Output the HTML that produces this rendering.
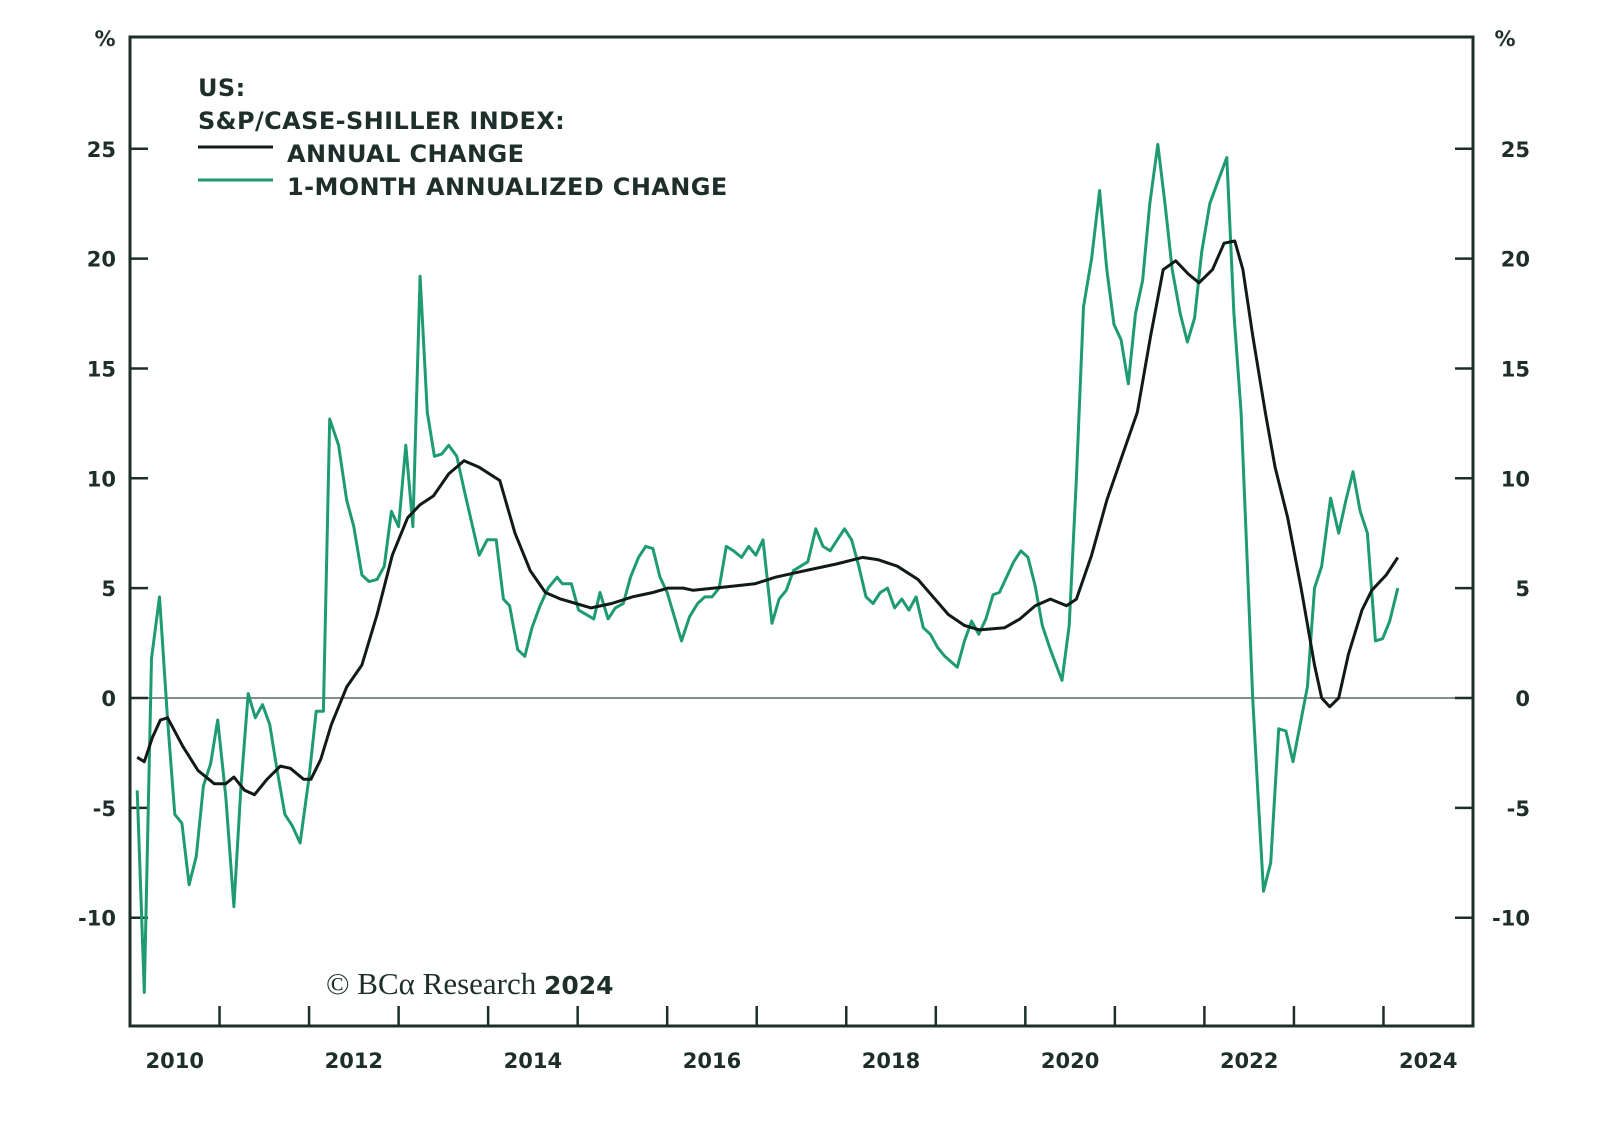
<!DOCTYPE html>
<html><head><meta charset="utf-8"><style>
html,body{margin:0;padding:0;background:#fff;}
svg{display:block;font-family:"DejaVu Sans","Liberation Sans",sans-serif;}
</style></head><body>
<svg id="chart" width="1600" height="1123" viewBox="0 0 1600 1123" xmlns="http://www.w3.org/2000/svg">
<rect x="0" y="0" width="1600" height="1123" fill="#fff"/>
<g id="grid"></g>
<g id="series"></g>
<g font-weight="bold" fill="#1d2e2b" font-size="24" letter-spacing="0.4">
<text x="198" y="96">US:</text>
<text x="198" y="129">S&amp;P/CASE-SHILLER INDEX:</text>
<line x1="198" y1="147" x2="273" y2="147" stroke="#111a18" stroke-width="3"/>
<text x="287" y="162">ANNUAL CHANGE</text>
<line x1="198" y1="180" x2="273" y2="180" stroke="#1f9b74" stroke-width="3"/>
<text x="287" y="195">1-MONTH ANNUALIZED CHANGE</text>
</g>
<text x="326" y="994" font-family="'Liberation Serif',serif" font-size="31" fill="#1d2e2b">© BCα Research <tspan font-family="'DejaVu Sans',sans-serif" font-weight="bold" font-size="25">2024</tspan></text>
</svg>
<script>
const yTicks=[-10,-5,0,5,10,15,20,25];
const xLabels=[2010,2012,2014,2016,2018,2020,2022,2024];
const annualDates=[2010.08,2010.16,2010.25,2010.34,2010.42,2010.59,2010.76,2010.94,2011.07,2011.16,2011.28,2011.39,2011.53,2011.68,2011.79,2011.94,2012.02,2012.13,2012.25,2012.42,2012.59,2012.76,2012.93,2013.10,2013.24,2013.39,2013.56,2013.73,2013.90,2014.13,2014.30,2014.47,2014.64,2014.81,2014.98,2015.15,2015.38,2015.61,2015.84,2016.01,2016.18,2016.29,2016.52,2016.75,2016.98,2017.21,2017.43,2017.66,2017.89,2018.18,2018.35,2018.57,2018.80,2018.97,2019.14,2019.32,2019.49,2019.77,2019.94,2020.11,2020.28,2020.46,2020.57,2020.74,2020.91,2021.08,2021.25,2021.40,2021.54,2021.68,2021.82,2021.94,2022.09,2022.22,2022.34,2022.43,2022.54,2022.68,2022.79,2022.93,2023.08,2023.23,2023.31,2023.40,2023.50,2023.61,2023.76,2023.87,2024.03,2024.16];
const annualValues=[-2.7,-2.9,-1.8,-1.0,-0.9,-2.2,-3.3,-3.9,-3.9,-3.6,-4.2,-4.4,-3.7,-3.1,-3.2,-3.7,-3.7,-2.8,-1.2,0.5,1.5,3.8,6.5,8.2,8.8,9.2,10.2,10.8,10.5,9.9,7.5,5.8,4.8,4.5,4.3,4.1,4.3,4.6,4.8,5.0,5.0,4.9,5.0,5.1,5.2,5.5,5.7,5.9,6.1,6.4,6.3,6.0,5.4,4.6,3.8,3.3,3.1,3.2,3.6,4.2,4.5,4.2,4.5,6.5,9.0,11.0,13.0,16.5,19.5,19.9,19.3,18.9,19.5,20.7,20.8,19.5,16.5,13.0,10.5,8.2,5.0,1.5,0,-0.4,0,2.0,4.0,4.9,5.6,6.4];
const monthlyDates=[2010.08,2010.16,2010.24,2010.33,2010.42,2010.50,2010.58,2010.66,2010.74,2010.82,2010.90,2010.98,2011.07,2011.16,2011.24,2011.32,2011.40,2011.48,2011.56,2011.64,2011.73,2011.81,2011.90,2012.00,2012.08,2012.16,2012.23,2012.33,2012.42,2012.50,2012.59,2012.67,2012.76,2012.84,2012.92,2013.00,2013.08,2013.16,2013.24,2013.32,2013.40,2013.48,2013.56,2013.65,2013.73,2013.90,2013.99,2014.09,2014.17,2014.24,2014.33,2014.41,2014.49,2014.58,2014.67,2014.77,2014.83,2014.93,2015.01,2015.18,2015.25,2015.34,2015.42,2015.51,2015.59,2015.68,2015.76,2015.84,2015.92,2016.00,2016.16,2016.25,2016.34,2016.42,2016.50,2016.58,2016.66,2016.74,2016.83,2016.91,2016.99,2017.07,2017.17,2017.25,2017.33,2017.41,2017.49,2017.57,2017.66,2017.74,2017.82,2017.90,2017.98,2018.06,2018.14,2018.22,2018.30,2018.38,2018.46,2018.54,2018.62,2018.70,2018.78,2018.86,2018.94,2019.02,2019.10,2019.24,2019.32,2019.40,2019.48,2019.56,2019.64,2019.71,2019.79,2019.87,2019.95,2020.03,2020.11,2020.19,2020.28,2020.41,2020.49,2020.57,2020.65,2020.74,2020.83,2020.91,2020.99,2021.07,2021.15,2021.23,2021.31,2021.39,2021.48,2021.56,2021.64,2021.73,2021.81,2021.89,2021.97,2022.06,2022.15,2022.25,2022.33,2022.41,2022.47,2022.54,2022.60,2022.66,2022.74,2022.83,2022.91,2022.99,2023.07,2023.15,2023.23,2023.31,2023.41,2023.50,2023.58,2023.66,2023.74,2023.82,2023.91,2023.99,2024.07,2024.16];
const monthlyValues=[-4.2,-13.4,1.8,4.6,-1,-5.3,-5.7,-8.5,-7.2,-4,-3,-1,-4.5,-9.5,-4,0.2,-0.9,-0.3,-1.2,-3.2,-5.3,-5.8,-6.6,-3.6,-0.6,-0.6,12.7,11.5,9.0,7.8,5.6,5.3,5.4,6.0,8.5,7.8,11.5,7.8,19.2,13.0,11.0,11.1,11.5,11.0,9.5,6.5,7.2,7.2,4.5,4.2,2.2,1.9,3.2,4.2,5.0,5.5,5.2,5.2,4.0,3.6,4.8,3.6,4.1,4.3,5.5,6.4,6.9,6.8,5.5,4.8,2.6,3.7,4.3,4.6,4.6,5.0,6.9,6.7,6.4,6.9,6.5,7.2,3.4,4.5,4.9,5.8,6.0,6.2,7.7,6.9,6.7,7.2,7.7,7.2,6.0,4.6,4.3,4.8,5.0,4.1,4.5,4.0,4.6,3.2,2.9,2.3,1.9,1.4,2.6,3.5,2.9,3.6,4.7,4.8,5.5,6.2,6.7,6.4,5.1,3.3,2.2,0.8,3.3,10,17.8,20.0,23.1,19.5,17.0,16.3,14.3,17.5,19.0,22.5,25.2,22.5,19.5,17.5,16.2,17.3,20.3,22.5,23.5,24.6,17.5,13.0,7.0,0,-4.5,-8.8,-7.5,-1.4,-1.5,-2.9,-1.2,0.5,5.0,6.0,9.1,7.5,9.0,10.3,8.5,7.5,2.6,2.7,3.5,5.0];

const NS="http://www.w3.org/2000/svg";
const L=130,R=1473,T=37,B=1026,Y0=698,PU=21.97;
const xs=t=>L+(t-2010)*(R-L)/15;
const ys=v=>Y0-v*PU;
const axes=document.getElementById('grid'),ser=document.getElementById('series');
function mk(tag,attrs,parent){const e=document.createElementNS(NS,tag);for(const k in attrs)e.setAttribute(k,attrs[k]);parent.appendChild(e);return e;}
const ink="#1d2e2b";
let z=mk('line',{x1:L,x2:R,y1:ys(0),y2:ys(0),stroke:'#3a4a47','stroke-width':1.3},axes);


yTicks.forEach(v=>{
  const y=ys(v);
  let t1=mk('line',{x1:L,x2:L+18,y1:y,y2:y,stroke:ink,'stroke-width':2.5},axes);
  
  
  let t2=mk('line',{x1:R-18,x2:R,y1:y,y2:y,stroke:ink,'stroke-width':2.5},axes);
  
  
  let a=mk('text',{x:116,y:y+8,'text-anchor':'end','font-size':21,'font-weight':'bold',fill:ink},axes);a.textContent=v;
  
  
  let b=mk('text',{x:1530,y:y+8,'text-anchor':'end','font-size':21,'font-weight':'bold',fill:ink},axes);b.textContent=v;
  
  
});
for(let yr=2011;yr<=2024;yr++){
  const x=xs(yr);
  let t=mk('line',{x1:x,x2:x,y1:B-20,y2:B,stroke:ink,'stroke-width':2.5},axes);
  
  
}
xLabels.forEach(yr=>{
  let t=mk('text',{x:xs(yr+0.5),y:1068,'text-anchor':'middle','font-size':21,'font-weight':'bold',fill:ink},axes);t.textContent=yr;
  
  
});
let p1=mk('text',{x:105,y:46,'text-anchor':'middle','font-size':21,'font-weight':'bold',fill:ink},axes);p1.textContent='%';


let p2=mk('text',{x:1505,y:46,'text-anchor':'middle','font-size':21,'font-weight':'bold',fill:ink},axes);p2.textContent='%';


let fr=mk('rect',{x:L,y:T,width:R-L,height:B-T,fill:'none',stroke:ink,'stroke-width':3},axes);



const gpts=monthlyDates.map((d,i)=>xs(d).toFixed(1)+','+ys(monthlyValues[i]).toFixed(1)).join(' ');
let g=mk('polyline',{points:gpts,fill:'none',stroke:'#1f9b74','stroke-width':3,'stroke-linejoin':'round'},ser);


const bpts=annualDates.map((d,i)=>xs(d).toFixed(1)+','+ys(annualValues[i]).toFixed(1)).join(' ');
let k=mk('polyline',{points:bpts,fill:'none',stroke:'#111a18','stroke-width':3,'stroke-linejoin':'round'},ser);


</script>
</body></html>
